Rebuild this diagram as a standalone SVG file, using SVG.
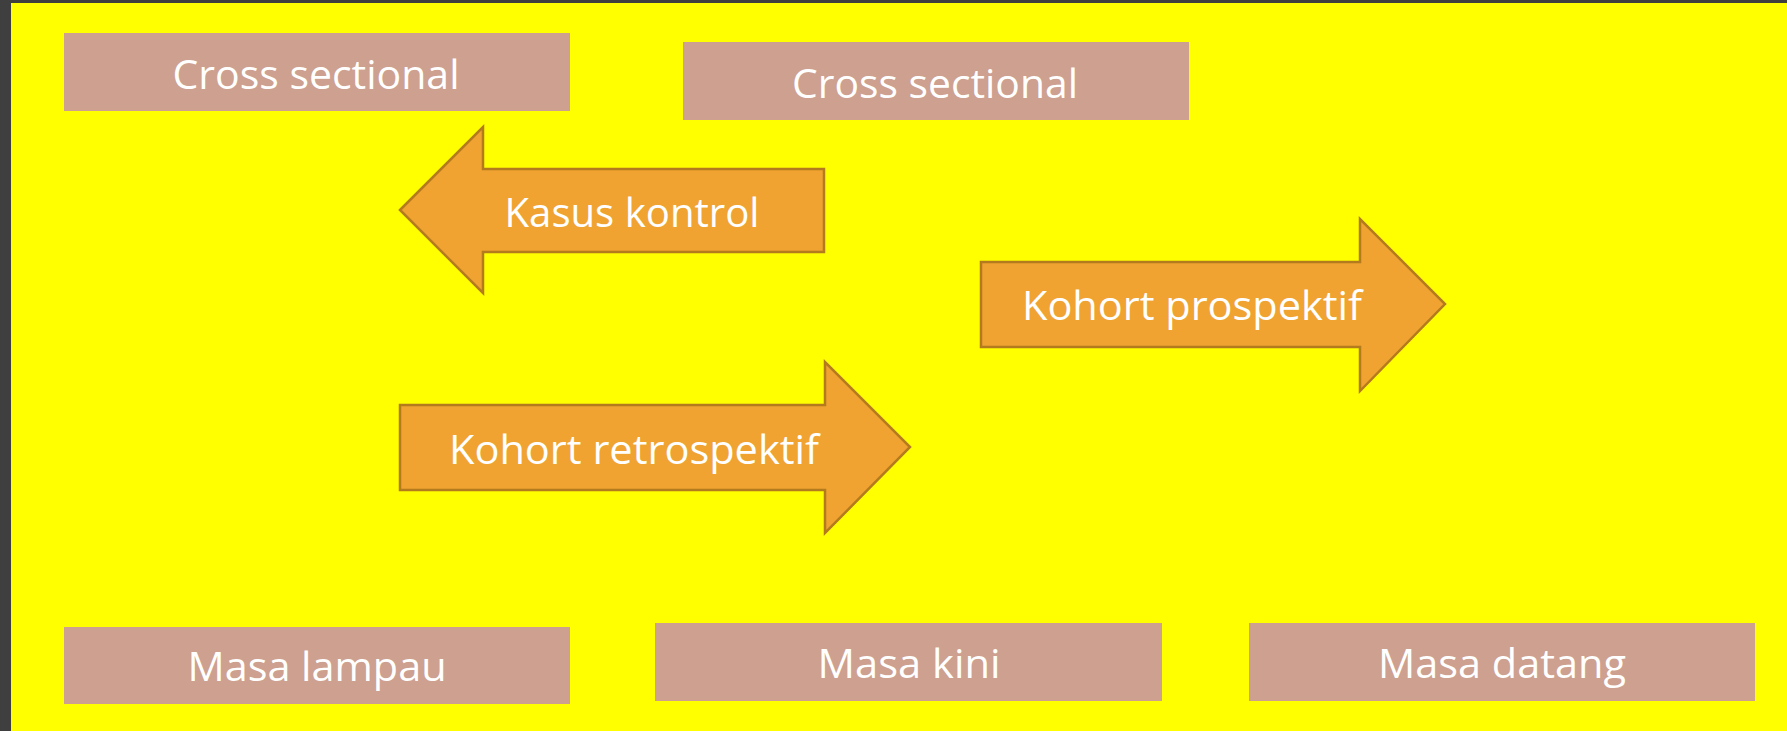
<svg xmlns="http://www.w3.org/2000/svg" width="1787" height="731" viewBox="0 0 1787 731">
<style>
.box{fill:#CDA08F}
.arrow{fill:#F0A330;stroke:#B47A1E;stroke-width:2.5;stroke-linejoin:miter}
.t{font-family:"Open Sans","Lato","Liberation Sans",sans-serif;font-size:41px;fill:#FFFFFF;text-anchor:middle}
</style>
<rect x="0" y="0" width="1787" height="731" fill="#3F3F3F"/>
<rect x="11" y="3" width="1776" height="728" fill="#FFFF00"/>
<g id="cross-sectional-1"><rect class="box" x="64" y="33" width="506" height="78"/><text class="t" x="316" y="89" textLength="287" lengthAdjust="spacingAndGlyphs">Cross sectional</text></g>
<g id="cross-sectional-2"><rect class="box" x="683" y="42" width="506" height="78"/><text class="t" x="935" y="98" textLength="286" lengthAdjust="spacingAndGlyphs">Cross sectional</text></g>
<g id="connectors">
<g id="kasus-kontrol"><path class="arrow" d="M400,210 L483,127 L483,169 L824,169 L824,252 L483,252 L483,293 Z"/><text class="t" x="632" y="227" textLength="255" lengthAdjust="spacingAndGlyphs">Kasus kontrol</text></g>
<g id="kohort-prospektif"><path class="arrow" d="M981,262 L1360,262 L1360,219 L1445,304 L1360,391 L1360,347 L981,347 Z"/><text class="t" x="1192" y="320" textLength="340" lengthAdjust="spacingAndGlyphs">Kohort prospektif</text></g>
<g id="kohort-retrospektif"><path class="arrow" d="M400,405 L825,405 L825,362 L910,447 L825,533 L825,490 L400,490 Z"/><text class="t" x="634" y="464" textLength="370" lengthAdjust="spacingAndGlyphs">Kohort retrospektif</text></g>
</g>
<g id="masa-lampau"><rect class="box" x="64" y="627" width="506" height="77"/><text class="t" x="317" y="681" textLength="259" lengthAdjust="spacingAndGlyphs">Masa lampau</text></g>
<g id="masa-kini"><rect class="box" x="655" y="623" width="507" height="78"/><text class="t" x="909" y="678" textLength="183" lengthAdjust="spacingAndGlyphs">Masa kini</text></g>
<g id="masa-datang"><rect class="box" x="1249" y="623" width="506" height="78"/><text class="t" x="1502" y="678" textLength="248" lengthAdjust="spacingAndGlyphs">Masa datang</text></g>
</svg>
